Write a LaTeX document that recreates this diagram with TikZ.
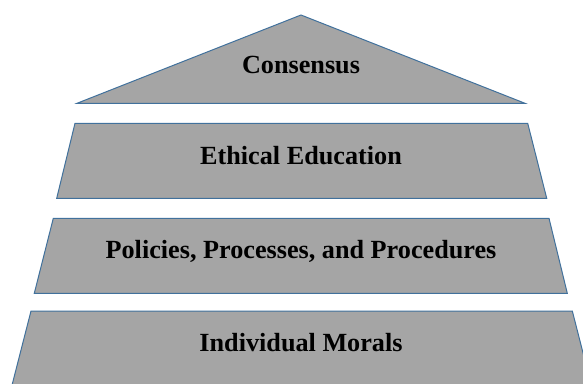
\documentclass[tikz,border=0pt]{standalone}
\usepackage{fontspec}
\setmainfont{Liberation Serif}
\definecolor{tierfill}{HTML}{A5A5A5}
\definecolor{tierline}{HTML}{41719C}
\tikzset{
  tier/.style={fill=tierfill, draw=tierline, line width=1pt, line join=miter},
  tierlabel/.style={anchor=base, inner sep=0pt, text=black, font=\fontsize{26.2}{30}\selectfont\bfseries}
}
\begin{document}
\begin{tikzpicture}[x=1pt,y=-1pt]
\useasboundingbox (0,0) rectangle (583,383);
\clip (0,0) rectangle (583,383);
% apex
\draw[tier] (301,15) -- (525,103.3) -- (77,103.3) -- cycle;
\node[tierlabel] (consensus) at (301,73.3) {Consensus};
% tier 2
\draw[tier] (75,123.3) -- (527.7,123.3) -- (546.7,198.3) -- (56.7,198.3) -- cycle;
\node[tierlabel] (ethical) at (301,164) {Ethical Education};
% tier 3
\draw[tier] (53.3,218.3) -- (549,218.3) -- (567.3,293.3) -- (34.3,293.3) -- cycle;
\node[tierlabel] (policies) at (301,258.3) {Policies, Processes, and Procedures};
% tier 4
\draw[tier] (31,311) -- (572.3,311) -- (591.5,386) -- (11.8,386) -- cycle;
\node[tierlabel] (morals) at (301,351.7) {Individual Morals};
\end{tikzpicture}
\end{document}
